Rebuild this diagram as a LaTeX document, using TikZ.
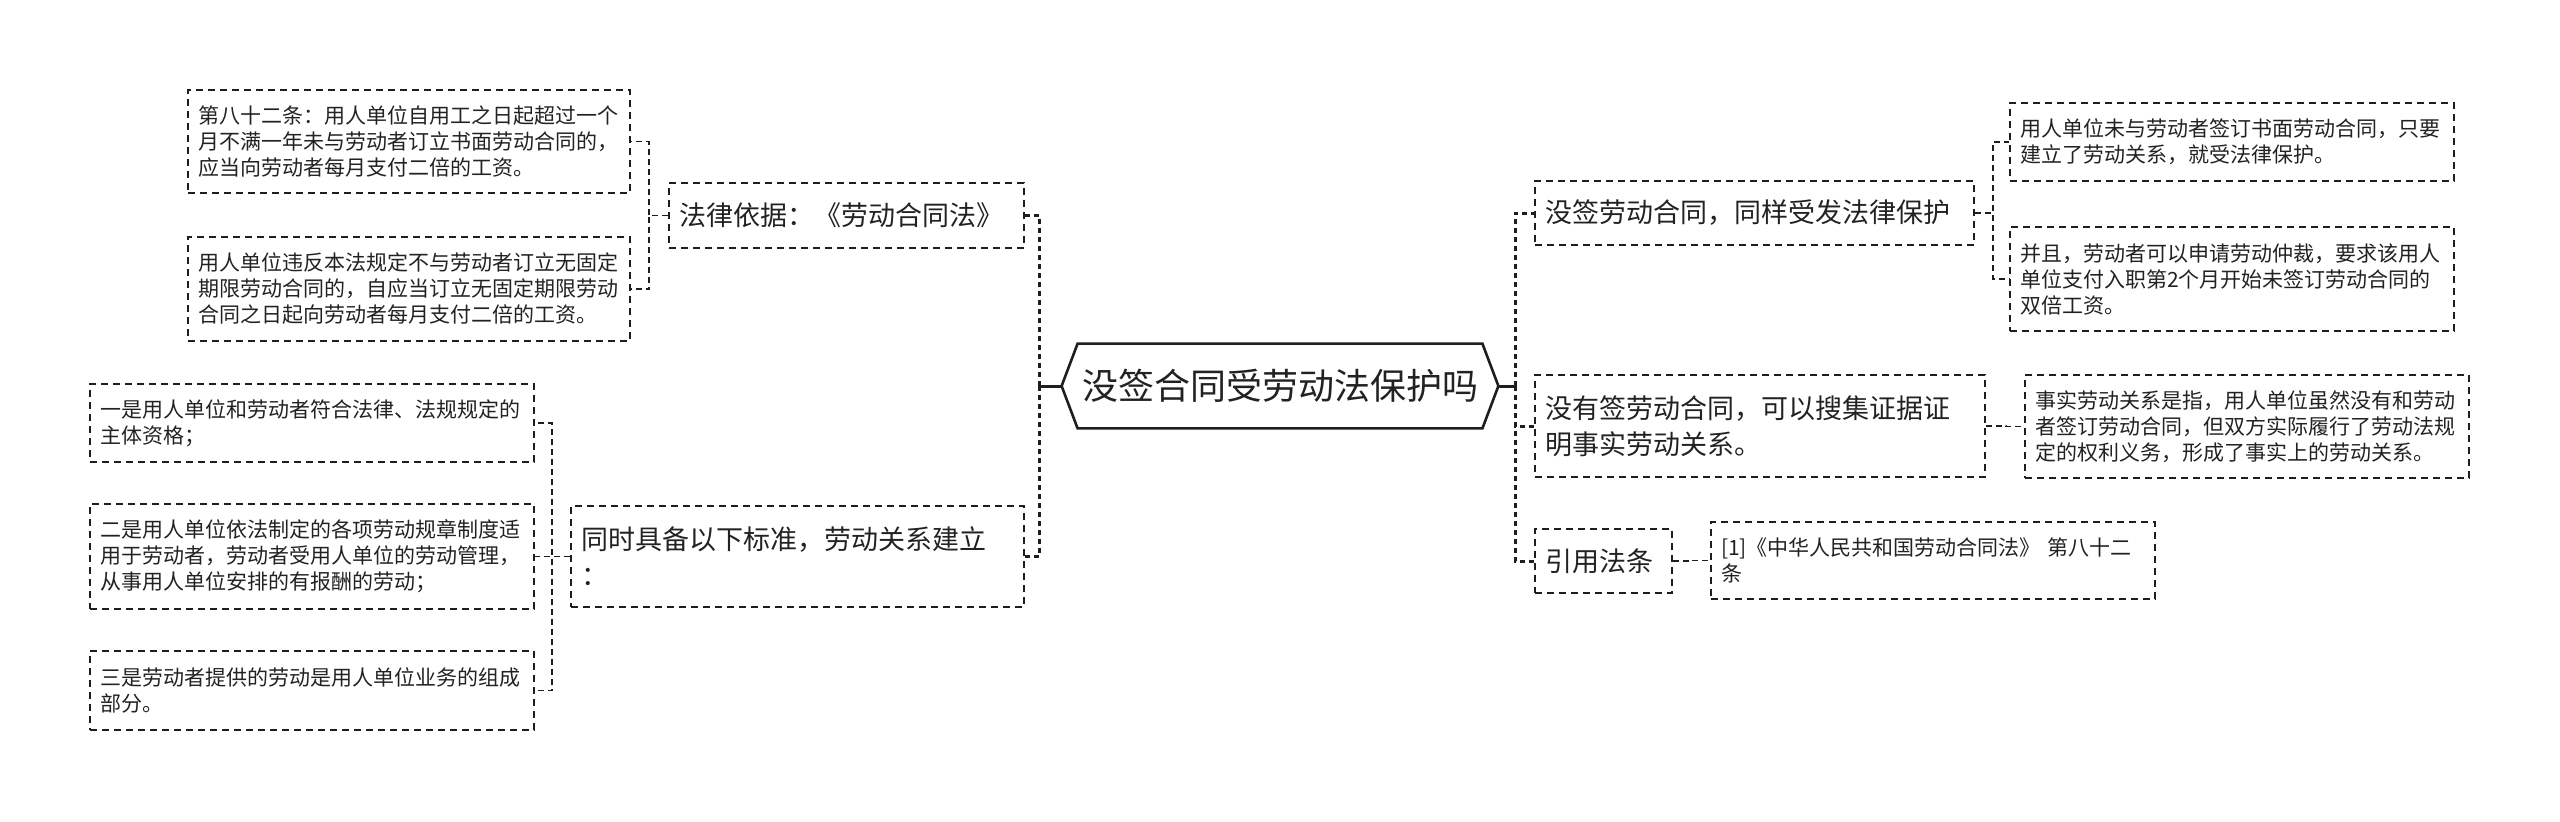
\documentclass[tikz,border=0pt]{standalone}
\usepackage{fontspec}
\setmainfont{Noto Sans CJK SC}
\definecolor{linec}{HTML}{1E1E1E}
\definecolor{textc}{HTML}{222222}
\tikzset{
  boxbase/.style={draw=linec, dash pattern=on 3.5pt off 2.5pt, line width=0.8pt, align=left, inner xsep=5pt, inner ysep=0pt, text=textc},
  leaf/.style={boxbase, font=\fontsize{10.5}{13}\selectfont},
  mid/.style={boxbase, font=\fontsize{13.5}{18}\selectfont},
  conn/.style={draw=linec, dash pattern=on 3pt off 2pt, line width=0.8pt},
  mainconn/.style={draw=linec, dash pattern=on 2.5pt off 2pt, line width=1.5pt},
  stub/.style={draw=linec, line width=1.5pt},
}
\begin{document}
\begin{tikzpicture}[x=0.5pt, y=-0.5pt]
\useasboundingbox (0,0) rectangle (2560,821);
% root
\node[minimum width=218pt, minimum height=42pt, inner sep=0pt, font=\fontsize{18}{22}\selectfont, text=textc] (root) at (1280,386) {没签合同受劳动法保护吗};
\draw[linec, line width=1.3pt, line join=miter] (root.west) -- ([xshift=8pt]root.north west) -- ([xshift=-8pt]root.north east) -- (root.east) -- ([xshift=-8pt]root.south east) -- ([xshift=8pt]root.south west) -- cycle;
\coordinate (lsp) at ([xshift=-11pt]root.west);
\coordinate (rsp) at ([xshift=8.5pt]root.east);

% left side
\node[mid, text width=167.5pt, minimum height=32.5pt] (L1) at (846.5,215.5) {法律依据：《劳动合同法》};
\node[leaf, text width=211pt, minimum height=51.5pt] (L1a) at (409,141.5) {第八十二条：用人单位自用工之日起超过一个\\月不满一年未与劳动者订立书面劳动合同的，\\应当向劳动者每月支付二倍的工资。};
\node[leaf, text width=211pt, minimum height=52pt] (L1b) at (409,289) {用人单位违反本法规定不与劳动者订立无固定\\期限劳动合同的，自应当订立无固定期限劳动\\合同之日起向劳动者每月支付二倍的工资。};

\node[mid, text width=216.5pt, minimum height=50.5pt] (L2) at (797.5,556.5) {同时具备以下标准，劳动关系建立\\：};
\node[leaf, text width=212pt, minimum height=39pt] (L2a) at (312,423) {一是用人单位和劳动者符合法律、法规规定的\\主体资格；};
\node[leaf, text width=212pt, minimum height=52.5pt] (L2b) at (312,556.5) {二是用人单位依法制定的各项劳动规章制度适\\用于劳动者，劳动者受用人单位的劳动管理，\\从事用人单位安排的有报酬的劳动；};
\node[leaf, text width=212pt, minimum height=39.5pt] (L2c) at (312,690.5) {三是劳动者提供的劳动是用人单位业务的组成\\部分。};

% right side
\node[mid, text width=209.5pt, minimum height=32pt] (R1) at (1754.5,213) {没签劳动合同，同样受发法律保护};
\node[leaf, text width=212pt, minimum height=39pt] (R1a) at (2232,142) {用人单位未与劳动者签订书面劳动合同，只要\\建立了劳动关系，就受法律保护。};
\node[leaf, text width=212pt, minimum height=52pt] (R1b) at (2232,279) {并且，劳动者可以申请劳动仲裁，要求该用人\\单位支付入职第2个月开始未签订劳动合同的\\双倍工资。};

\node[mid, text width=215pt, minimum height=51pt] (R2) at (1760,426) {没有签劳动合同，可以搜集证据证\\明事实劳动关系。};
\node[leaf, text width=212pt, minimum height=51.5pt] (R2a) at (2247,426.5) {事实劳动关系是指，用人单位虽然没有和劳动\\者签订劳动合同，但双方实际履行了劳动法规\\定的权利义务，形成了事实上的劳动关系。};

\node[mid, text width=58.5pt, minimum height=32pt] (R3) at (1603.5,561) {引用法条};
\node[leaf, text width=212pt, minimum height=38.5pt] (R3a) at (1933,560.5) {[1]《中华人民共和国劳动合同法》 第八十二\\条};

% connectors
\draw[stub] (root.west) -- (lsp);
\draw[stub] (root.east) -- (rsp);
\draw[mainconn] (lsp) |- (L1.east);
\draw[mainconn] (lsp) |- (L2.east);
\draw[mainconn] (rsp) |- (R1.west);
\draw[mainconn] (rsp) |- (R2.west);
\draw[mainconn] (rsp) |- (R3.west);

\draw[conn] (L1.west) -- ++(-19,0) |- (L1a.east);
\draw[conn] (L1.west) -- ++(-19,0) |- (L1b.east);
\draw[conn] (L2.west) -- ++(-18,0) |- (L2a.east);
\draw[conn] (L2.west) -- ++(-18,0) |- (L2b.east);
\draw[conn] (L2.west) -- ++(-18,0) |- (L2c.east);
\draw[conn] (R1.east) -- ++(18,0) |- (R1a.west);
\draw[conn] (R1.east) -- ++(18,0) |- (R1b.west);
\draw[conn] (R2.east) -- ++(20,0) |- (R2a.west);
\draw[conn] (R3.east) -- ++(19,0) |- (R3a.west);
\end{tikzpicture}
\end{document}
